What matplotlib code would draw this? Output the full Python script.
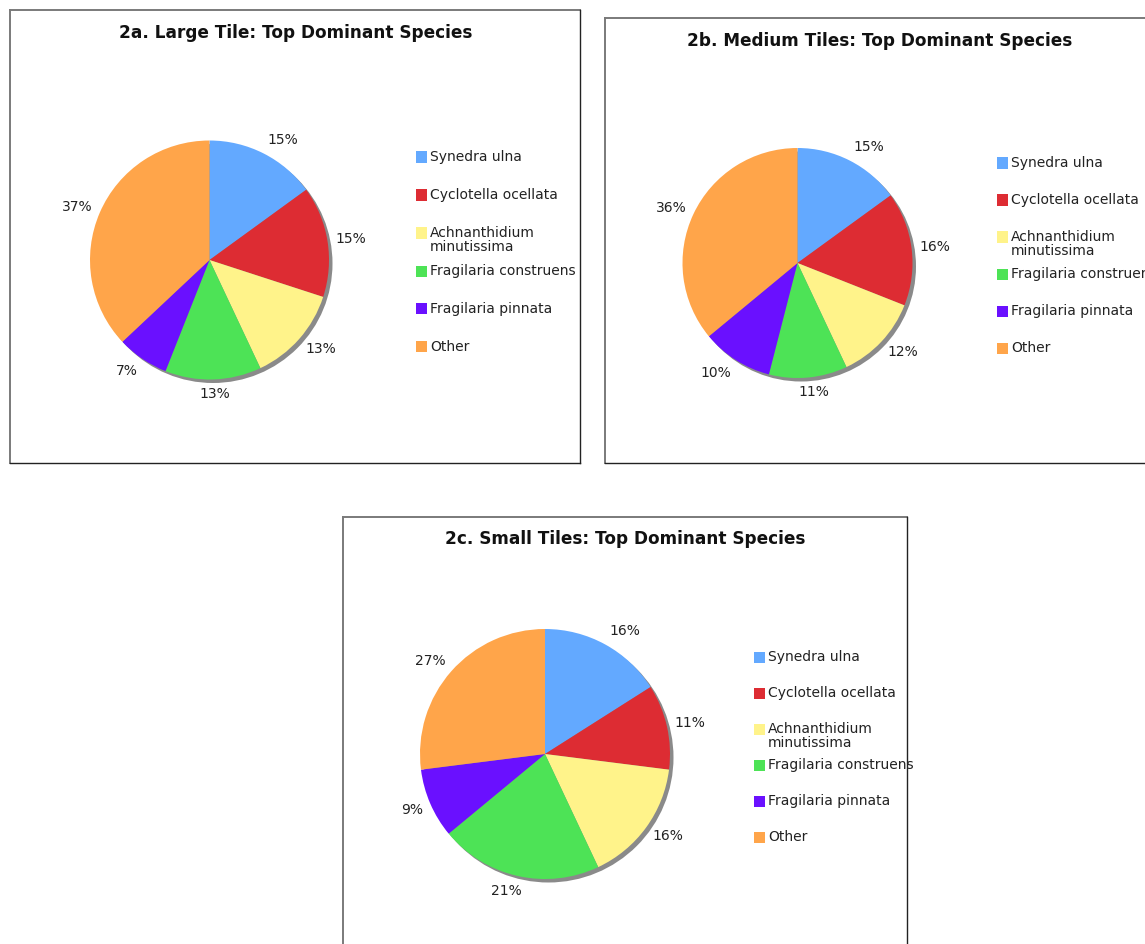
import matplotlib
matplotlib.use("Agg")
import numpy as np
import matplotlib.pyplot as plt
from matplotlib.patches import Rectangle, Circle
from matplotlib.lines import Line2D

W, H = 1145, 944

species = ["Synedra ulna", "Cyclotella ocellata", "Achnanthidium\nminutissima",
           "Fragilaria construens", "Fragilaria pinnata", "Other"]
colors = ["#63A9FF", "#DD2C33", "#FFF38A", "#4DE356", "#6A10FF", "#FFA54A"]

titles = ["2a. Large Tile: Top Dominant Species",
          "2b. Medium Tiles: Top Dominant Species",
          "2c. Small Tiles: Top Dominant Species"]
large_vals = [15, 15, 13, 13, 7, 37]
medium_vals = [15, 16, 12, 11, 10, 36]
small_vals = [16, 11, 16, 21, 9, 27]
all_vals = [large_vals, medium_vals, small_vals]

# layout in pixels (from top-left)
boxes = [(10, 10, 580, 463), (605, 18, 1160, 463), (343, 517, 907, 960)]
centers = [(209.5, 260, 119.5), (797.5, 263, 115), (545, 754, 125)]
title_pos = [(296, 33), (880, 41), (625, 539)]
legend_pos = [(416, 157, 38), (997, 163, 37), (754, 657, 36)]

plt.rcParams['font.family'] = ['DejaVu Sans']
fig = plt.figure(figsize=(W / 100, H / 100), dpi=100)
fig.patch.set_facecolor("white")


def fx(x):
    return x / W


def fy(y):
    return 1 - y / H


pie_axes = []
for i in range(3):
    x0, y0, x1, y1 = boxes[i]
    # box: gray top/left, dark bottom/right
    fig.add_artist(Line2D([fx(x0), fx(x1)], [fy(y0), fy(y0)], color="#7a7a7a", lw=1.4))
    fig.add_artist(Line2D([fx(x0), fx(x0)], [fy(y0), fy(y1)], color="#7a7a7a", lw=1.4))
    fig.add_artist(Line2D([fx(x1), fx(x1)], [fy(y0), fy(y1)], color="#222222", lw=1.0))
    fig.add_artist(Line2D([fx(x0), fx(x1)], [fy(y1), fy(y1)], color="#222222", lw=1.0))

    tx, ty = title_pos[i]
    fig.text(fx(tx), fy(ty), titles[i], ha="center", va="center",
             fontsize=12.2, fontweight="bold", color="#111111")

    cx, cy, r = centers[i]
    s = 1.6
    ax = fig.add_axes([fx(cx - s * r), fy(cy + s * r), 2 * s * r / W, 2 * s * r / H])
    ax.set_xlim(-s, s)
    ax.set_ylim(-s, s)
    ax.set_aspect("equal")
    ax.axis("off")
    off = 3.5 / r
    ax.add_patch(Circle((off, -off), 1.0, facecolor="#8a8a8a", edgecolor="none", zorder=0))
    gap = 8.0 / r
    wedges, texts = ax.pie(all_vals[i], colors=colors, startangle=90, counterclock=False,
                           radius=1.0, labels=[f"{v}%" for v in all_vals[i]],
                           labeldistance=1.0 + gap,
                           wedgeprops=dict(linewidth=0, antialiased=True),
                           textprops=dict(fontsize=10, color="#222222"))
    for w in wedges:
        w.set_zorder(2)
    for t in texts:
        t.set_ha("center")
        t.set_va("center")
    ax.set_xlim(-s, s)
    ax.set_ylim(-s, s)
    pie_axes.append((ax, wedges, texts, r))

    lx, ly, dy = legend_pos[i]
    for k, name in enumerate(species):
        yy = ly + k * dy
        fig.add_artist(Rectangle((fx(lx), fy(yy + 5.5)), 10.5 / W, 11 / H,
                                 facecolor=colors[k], edgecolor="none"))
        fig.text(fx(lx + 14), fy(yy - 7), name, ha="left", va="top",
                 fontsize=10, color="#222222", linespacing=1.0)

# shift labels so their box sits outside the anchor point along the mid-angle
fig.canvas.draw()
renderer = fig.canvas.get_renderer()
for ax, wedges, texts, r in pie_axes:
    for w, t in zip(wedges, texts):
        ang = np.deg2rad((w.theta1 + w.theta2) / 2)
        bb = t.get_window_extent(renderer)
        x, y = t.get_position()
        x += (bb.width / 2) * np.clip(3 * np.cos(ang), -1, 1) / r
        y += (bb.height / 2) * np.sin(ang) / r
        t.set_position((x, y))

fig.savefig("out.png", dpi=100, facecolor="white")
